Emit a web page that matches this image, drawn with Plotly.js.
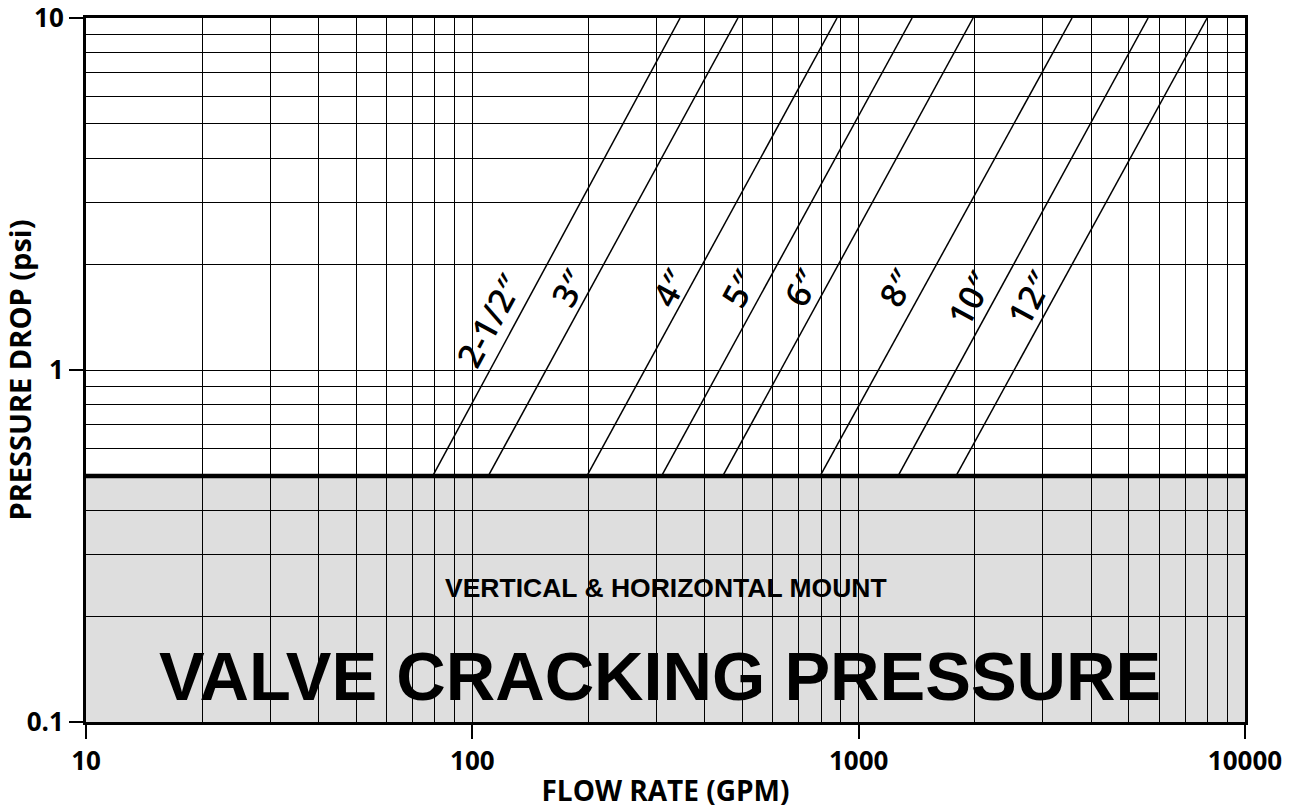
<!DOCTYPE html>
<html>
<head>
<meta charset="utf-8">
<script src="https://cdn.plot.ly/plotly-3.0.1.min.js"></script>
<style>html,body{margin:0;padding:0;background:#fff;}#chart{width:1291px;height:809px;}</style>
</head>
<body>
<div id="chart"></div>
<script>
// ---- data ----
const valveSizes = ['2-1/2″', '3″', '4″', '5″', '6″', '8″', '10″', '12″'];
const flowAtCracking = [79, 110, 198, 309, 445, 795, 1265, 1787];   // GPM at 0.5 psi
const flowAtTop = [345, 487, 879, 1375, 1978, 3567, 5613, 7980];    // GPM at 10 psi
const pressureEnds = [0.5, 10];                                     // psi
const crackingPressure = 0.5;                                       // psi
const xTickVals = [10, 100, 1000, 10000];
const xTickText = ['10', '100', '1000', '10000'];
const yTickVals = [0.1, 1, 10];
const yTickText = ['0.1', '1', '10'];

// ---- label placement (style, not data) ----
const labelPressure = [1.39, 1.71, 1.71, 1.71, 1.71, 1.71, 1.6, 1.6];
const labelShift = [-28, -22, -20, -25, -24, -27, -25, -24];

function minorVals(lo, hi) {
  const out = [];
  for (let d = lo; d < hi; d *= 10) for (let m = 2; m <= 9; m++) out.push(+(m * d).toPrecision(3));
  return out;
}

const traces = valveSizes.map((s, i) => ({
  type: 'scatter', mode: 'lines', name: s,
  x: [flowAtCracking[i], flowAtTop[i]], y: pressureEnds,
  line: {color: '#000', width: 1.5}, hoverinfo: 'x+y+name', showlegend: false
}));
traces.push({
  type: 'scatter', mode: 'lines', x: [10, 10000], y: [crackingPressure, crackingPressure],
  line: {color: '#000', width: 4.5}, showlegend: false, hoverinfo: 'skip', cliponaxis: false
});

function flowAt(i, p) {
  const t = (Math.log10(p) - Math.log10(pressureEnds[0])) / (Math.log10(pressureEnds[1]) - Math.log10(pressureEnds[0]));
  return Math.pow(10, Math.log10(flowAtCracking[i]) + t * (Math.log10(flowAtTop[i]) - Math.log10(flowAtCracking[i])));
}

const labelFont = {family: 'Open Sans, sans-serif', size: 34, color: '#000', weight: 600};
const annotations = valveSizes.map((s, i) => ({
  x: Math.log10(flowAt(i, labelPressure[i])), y: Math.log10(labelPressure[i]),
  xref: 'x', yref: 'y', text: s, showarrow: false, textangle: -61.5,
  xshift: labelShift[i], font: labelFont, xanchor: 'center', yanchor: 'middle'
}));
annotations.push({
  x: 0.5, y: 0.191, xref: 'paper', yref: 'paper', text: 'VERTICAL &amp; HORIZONTAL MOUNT',
  showarrow: false, font: {family: 'Liberation Sans, Arial, sans-serif', size: 26.5, color: '#000', weight: 700},
  xanchor: 'center', yanchor: 'middle'
});
annotations.push({
  x: 0.495, y: 0.065, xref: 'paper', yref: 'paper', text: 'VALVE CRACKING PRESSURE',
  showarrow: false, font: {family: 'Liberation Sans, Arial, sans-serif', size: 68.5, color: '#000', weight: 700},
  xanchor: 'center', yanchor: 'middle'
});

const tickFont = {family: 'Open Sans, sans-serif', size: 26, color: '#000', weight: 700};
const layout = {
  width: 1291, height: 809,
  margin: {l: 86, r: 46, t: 18, b: 87},
  paper_bgcolor: '#fff', plot_bgcolor: '#fff',
  showlegend: false,
  xaxis: {
    type: 'log', range: [1, 4],
    tickmode: 'array', tickvals: xTickVals, ticktext: xTickText,
    ticks: 'outside', ticklen: 14, tickwidth: 2, tickcolor: '#000',
    ticklabeloverflow: 'allow',
    showgrid: true, gridcolor: '#000', gridwidth: 1,
    minor: {tickmode: 'array', tickvals: minorVals(10, 10000), showgrid: true, gridcolor: '#000', gridwidth: 1, ticks: ''},
    showline: true, linecolor: '#000', linewidth: 3, mirror: true,
    zeroline: false, tickfont: tickFont,
    title: {text: 'FLOW RATE (GPM)', font: {family: 'Open Sans, sans-serif', size: 28, color: '#000', weight: 700}, standoff: 12}
  },
  yaxis: {
    type: 'log', range: [-1, 1],
    tickmode: 'array', tickvals: yTickVals, ticktext: yTickText,
    ticks: 'outside', ticklen: 14, tickwidth: 2, tickcolor: '#000',
    ticklabeloverflow: 'allow',
    showgrid: true, gridcolor: '#000', gridwidth: 1,
    minor: {tickmode: 'array', tickvals: minorVals(0.1, 10), showgrid: true, gridcolor: '#000', gridwidth: 1, ticks: ''},
    showline: true, linecolor: '#000', linewidth: 3, mirror: true,
    zeroline: false, tickfont: tickFont,
    title: {text: 'PRESSURE DROP (psi)', font: {family: 'Open Sans, sans-serif', size: 29, color: '#000', weight: 700}, standoff: 6}
  },
  shapes: [{
    type: 'rect', xref: 'paper', yref: 'y', x0: 0, x1: 1, y0: 0.1, y1: crackingPressure,
    fillcolor: '#dedede', line: {width: 0}, layer: 'below'
  }],
  annotations: annotations
};

Plotly.newPlot('chart', traces, layout, {displayModeBar: false, staticPlot: true});
</script>
</body>
</html>
